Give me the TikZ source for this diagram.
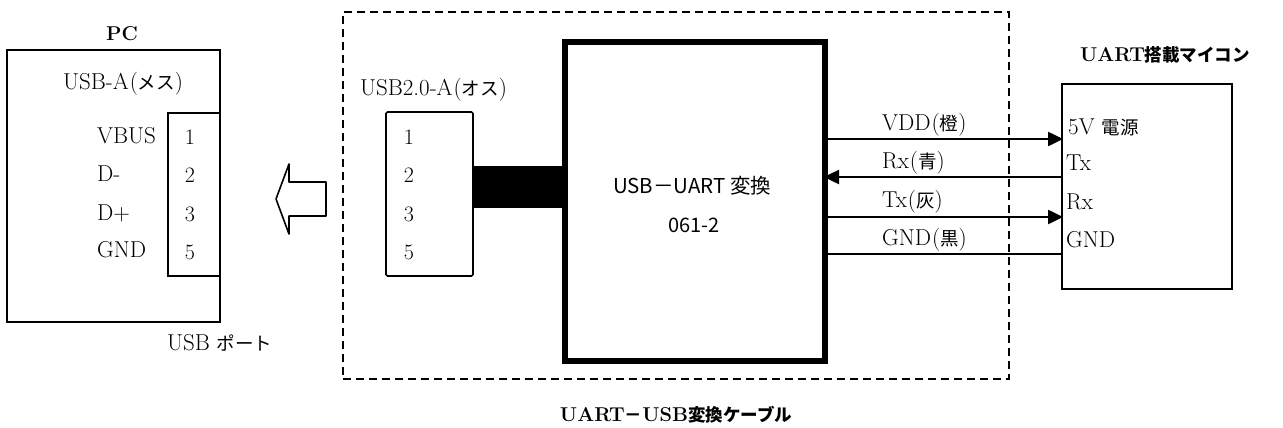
\documentclass[tikz,border=0pt]{standalone}
\usepackage{fontspec}
\usetikzlibrary{arrows.meta}
\newfontfamily\jp{Noto Sans CJK JP}
\newcommand{\jt}[1]{{\jp\fontsize{18.5}{18.5}\selectfont #1}}
\newcommand{\jh}[1]{{\jp\fontsize{17.5}{17.5}\selectfont #1}}
\newcommand{\paren}[1]{\hspace{1pt}(\jt{#1})}
\tikzset{
  box/.style={draw,line width=1.6pt,outer sep=0pt,inner sep=0pt,anchor=north west},
  txt/.style={anchor=west,inner sep=0pt,font=\fontsize{23}{23}\selectfont},
  num/.style={inner sep=0pt,font=\fontsize{22}{22}\selectfont},
  head/.style={inner sep=0pt,font=\fontsize{20}{20}\selectfont\bfseries},
  wire/.style={line width=2.5pt},
  tipped/.style={wire,-{Triangle[length=15pt,width=14pt]},shorten >=-1pt},
}
\begin{document}
\begin{tikzpicture}[x=1pt,y=-1pt]
\useasboundingbox (0,0) rectangle (1283,428);

\node[box,minimum width=213pt,minimum height=272pt] (pc) at (7,50) {};
\node[box,fill=white,minimum width=52pt,minimum height=163pt] (port) at (168,113) {};
\node[head] (pctitle) at (122,34) {PC};
\node[txt] (usba) at (63,84) {USB-A\paren{メス}};
\node[txt] (vbus) at (97,136) {VBUS};
\node[txt] (dm) at (97,174) {D-};
\node[txt] (dp) at (97,213) {D+};
\node[txt] (gnda) at (97,250) {GND};
\node[num] (pa1) at (190,137) {1};
\node[num] (pa2) at (190,175) {2};
\node[num] (pa3) at (190,214) {3};
\node[num] (pa5) at (190,252) {5};
\node[txt] (portlabel) at (167,343) {USB \jt{ポート}};

\draw[line width=1.6pt,line join=round] (276,199) -- (289,164) -- (289,182) -- (326,182) -- (326,216) -- (289,216) -- (289,234) -- cycle;

\node[box,dashed,dash pattern=on 8pt off 5pt,minimum width=666pt,minimum height=367pt] (cable) at (343,12) {};
\node[txt] (plugname) at (360,90) {USB2.0-A\paren{オス}};
\node[box,rounded corners=1.5pt,minimum width=87pt,minimum height=164pt] (plug) at (386,112) {};
\node[num] (pb1) at (409,137) {1};
\node[num] (pb2) at (409,175) {2};
\node[num] (pb3) at (409,214) {3};
\node[num] (pb5) at (409,252) {5};

\node[box,line width=6pt,minimum width=260pt,minimum height=319pt] (conv) at (565,42) {};
\node[anchor=west,inner sep=0pt,font=\jp\fontsize{20.5}{20.5}\selectfont] (convname) at (613,186) {USB－UART 変換};
\node[inner sep=0pt,font=\jp\fontsize{20}{20}\selectfont] (convcode) at (694,225) {061-2};
\coordinate (cabley) at (500,187);
\draw[line width=42pt] (plug.east |- cabley) -- (conv.west |- cabley);

\node[head] (cabletitle) at (676,415) {UART\jh{－}USB\jh{変換ケーブル}};
\node[head] (mcutitle) at (1165,55) {UART\jh{搭載マイコン}};
\node[box,minimum width=170pt,minimum height=205pt] (mcu) at (1062,84) {};

\coordinate (vddy) at (900,139);
\coordinate (rxy) at (900,177);
\coordinate (txy) at (900,217);
\coordinate (gndy) at (900,254);
\draw[tipped] (conv.east |- vddy) -- (mcu.west |- vddy);
\draw[tipped] (mcu.west |- rxy) -- (conv.east |- rxy);
\draw[tipped] (conv.east |- txy) -- (mcu.west |- txy);
\draw[line width=2pt] (conv.east |- gndy) -- (mcu.west |- gndy);

\node[txt] (vddlabel) at (882,125) {VDD\paren{橙}};
\node[txt] (rxlabel) at (882,163) {Rx\paren{青}};
\node[txt] (txlabel) at (882,202) {Tx\paren{灰}};
\node[txt] (gndlabel) at (882,240) {GND\paren{黒}};

\node[txt] (vpin) at (1068,127) {5V \jt{電源}};
\node[txt] (txpin) at (1066,163) {Tx};
\node[txt] (rxpin) at (1066,202) {Rx};
\node[txt] (gndpin) at (1066,240) {GND};
\end{tikzpicture}
\end{document}
